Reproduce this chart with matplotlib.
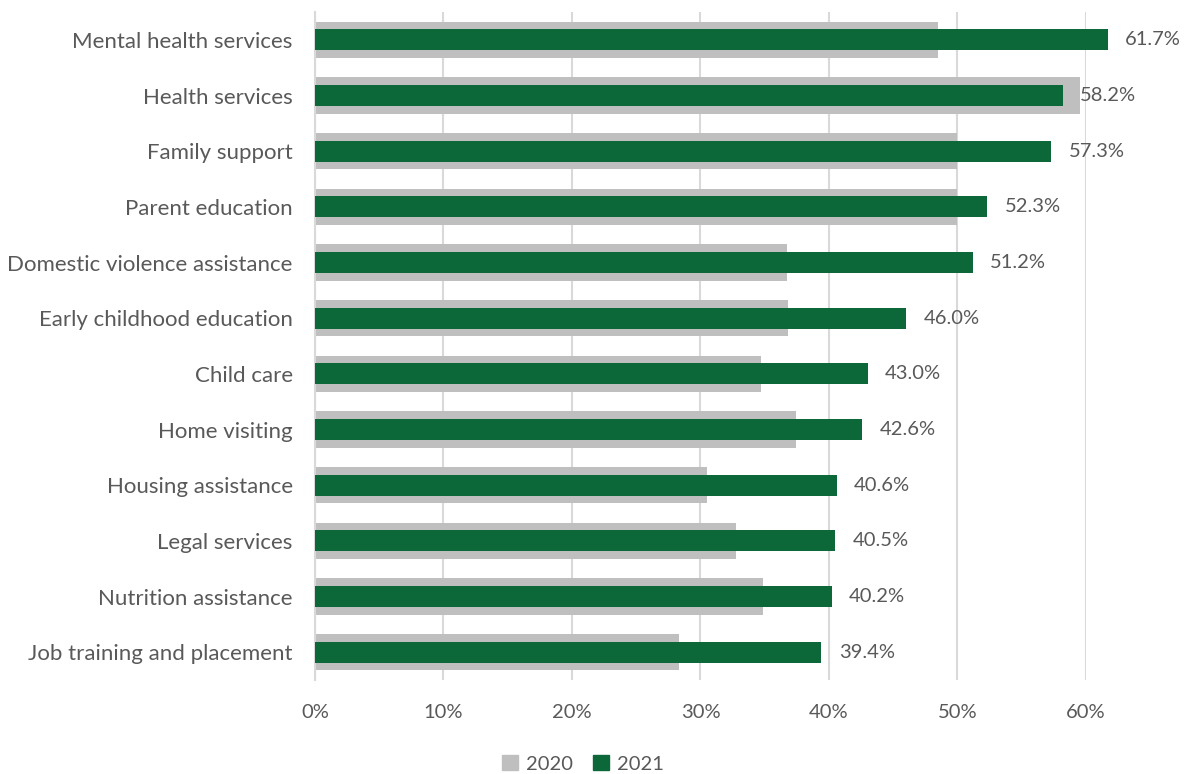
import matplotlib
matplotlib.use("Agg")
import matplotlib.pyplot as plt
import numpy as np
from matplotlib.patches import Patch

categories = [
    "Mental health services",
    "Health services",
    "Family support",
    "Parent education",
    "Domestic violence assistance",
    "Early childhood education",
    "Child care",
    "Home visiting",
    "Housing assistance",
    "Legal services",
    "Nutrition assistance",
    "Job training and placement",
]
share_2020 = [48.5, 59.5, 50.0, 50.0, 36.7, 36.8, 34.7, 37.4, 30.5, 32.8, 34.9, 28.3]
share_2021 = [61.7, 58.2, 57.3, 52.3, 51.2, 46.0, 43.0, 42.6, 40.6, 40.5, 40.2, 39.4]

GRAY = "#bfbfbf"
GREEN = "#0c6838"
TEXT = "#595959"
GRID = "#d9d9d9"

plt.rcParams["font.family"] = ["Lato", "DejaVu Sans"]

fig = plt.figure(figsize=(11.9, 7.74), dpi=100)
ax = fig.add_axes([0.2647, 0.1214, 0.6479, 0.8631])

y = np.arange(len(categories))
ax.barh(y, share_2020, height=0.65, color=GRAY, zorder=2, clip_on=False)
ax.barh(y, share_2021, height=0.38, color=GREEN, zorder=3, clip_on=False)

# value labels for the 2021 series
for yi, v in zip(y, share_2021):
    ax.text(v + 1.35, yi, f"{v:.1f}%", va="center", ha="left",
            fontsize=14.5, color=TEXT, clip_on=False)

ax.set_xlim(0, 60)
ax.set_ylim(len(categories) - 0.5, -0.5)
ax.set_xticks(np.arange(0, 61, 10))
ax.set_xticklabels([f"{t}%" for t in range(0, 61, 10)])
ax.set_yticks(y)
ax.set_yticklabels(categories)
ax.tick_params(axis="both", length=0, labelcolor=TEXT)
ax.tick_params(axis="x", labelsize=14.5, pad=17)
ax.tick_params(axis="y", labelsize=16, pad=16)

ax.grid(axis="x", color=GRID, linewidth=1.5, zorder=0)
ax.set_axisbelow(True)
for side in ["top", "right", "bottom"]:
    ax.spines[side].set_visible(False)
ax.spines["left"].set_color(GRID)
ax.spines["left"].set_linewidth(1.5)

handles = [Patch(color=GRAY, label="2020"), Patch(color=GREEN, label="2021")]
fig.legend(handles=handles, loc="center", bbox_to_anchor=(0.49, 0.013),
           ncol=2, frameon=False, fontsize=14.5, labelcolor=TEXT,
           handlelength=0.8, handleheight=0.8, handletextpad=0.4,
           columnspacing=1.0)

fig.savefig("out.png", dpi=100, facecolor="white")
